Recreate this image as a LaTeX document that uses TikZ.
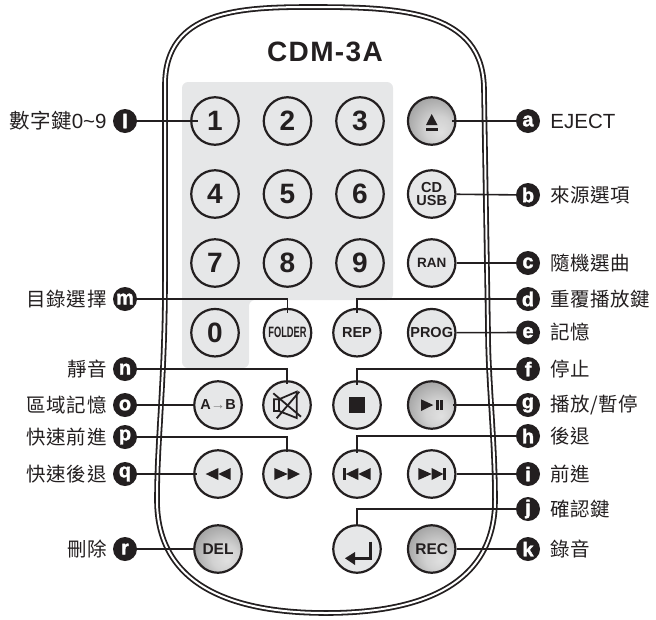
\documentclass[tikz,border=0pt]{standalone}
\usepackage{graphicx}
\usepackage{fontspec}
\setsansfont{Liberation Sans}
\newfontfamily\titlefont[LetterSpace=5]{Liberation Sans}
\newfontfamily\cjkfont[LetterSpace=3]{Noto Sans CJK TC}
\newfontfamily\badgefont[UprightFont={* Bold}, FakeBold=1.5]{Liberation Sans}
\usetikzlibrary{positioning}
\definecolor{ink}{HTML}{231F20}
\definecolor{panel}{HTML}{E6E7E8}
\pgfdeclareradialshading{btnglow}{\pgfpoint{10bp}{-12bp}}{
  rgb(0bp)=(.88,.88,.88); rgb(14bp)=(.82,.82,.82); rgb(32bp)=(.63,.63,.63); rgb(50bp)=(.55,.55,.55)}
\tikzset{
  btn/.style={circle, draw=ink, line width=2.2pt, fill=panel, minimum size=47.5pt, inner sep=0pt, text=ink, font=\fontsize{14.5}{14}\selectfont\sffamily\bfseries},
  darkbtn/.style={btn, shading=btnglow, font=\fontsize{15.5}{14}\selectfont\sffamily\bfseries},
  digit/.style={btn, font=\fontsize{28}{28}\selectfont\sffamily\bfseries},
  badge/.style={circle, fill=ink, minimum size=24pt, inner sep=0pt, text=white, font=\fontsize{20}{20}\selectfont\badgefont},
  cjk/.style={text=ink, inner sep=0pt, font=\fontsize{19.5}{20}\selectfont\cjkfont},
  lead/.style={draw=ink, line width=1.6pt},
  icon/.style={fill=ink, draw=none},
}
\begin{document}
\begin{tikzpicture}[x=1pt, y=-1pt]
    \useasboundingbox (0, 0) rectangle (656, 619);
    % case and number panel
    \draw[ink, line width=1.8pt, double=white, double distance=2pt] (312, 7) .. controls (240, 7) and (165, 10) .. (165, 85) -- (165, 280) .. controls (165, 380) and (157, 440) .. (157, 500) .. controls (157, 590) and (240, 613) .. (326, 613) .. controls (412, 613) and (495, 590) .. (495, 500) .. controls (495, 440) and (488, 380) .. (488, 330) -- (484, 90) .. controls (484, 10) and (400, 7) .. (312, 7) -- cycle;
    \fill[panel, rounded corners=6pt] (300, 82) -- (393, 82) -- (393, 300) -- (249, 300) -- (249, 368) -- (182, 368) -- (182, 82) -- cycle;
    \node (model) at (325, 52) {\fontsize{28}{28}\selectfont\titlefont\bfseries\textcolor{ink}{CDM-3A}};
    % buttons
    \node[digit] (one) at (215, 121) {1};
    \node[digit] (two) at (287.5, 121) {2};
    \node[digit] (three) at (360, 121) {3};
    \node[darkbtn] (eject) at (431.7, 121) {};
    \node[digit] (four) at (215, 194) {4};
    \node[digit] (five) at (287.5, 194) {5};
    \node[digit] (six) at (360, 194) {6};
    \node[btn, align=center, font=\fontsize{14.5}{13.5}\selectfont\sffamily\bfseries] (usb) at (431.7, 194) {CD\\USB};
    \node[digit] (seven) at (215, 263) {7};
    \node[digit] (eight) at (287.5, 263) {8};
    \node[digit] (nine) at (360, 263) {9};
    \node[btn, font=\fontsize{13.5}{13}\selectfont\sffamily\bfseries] (ran) at (431.7, 263) {RAN};
    \node[digit] (zero) at (215, 332.7) {0};
    \node[btn] (folder) at (287.5, 332.7) {\fontsize{15}{15}\selectfont\scalebox{.62}[1]{FOLDER}};
    \node[btn] (rep) at (357, 332.7) {REP};
    \node[btn] (prog) at (431.7, 332.7) {PROG};
    \node[btn] (ab) at (218, 405) {A\textcolor{gray}{\mdseries →}B};
    \node[btn] (mute) at (287, 405) {};
    \node[btn] (stop) at (357, 405) {};
    \node[darkbtn] (play) at (431.7, 405) {};
    \node[btn] (rew) at (218, 474) {};
    \node[btn] (fwd) at (287, 474) {};
    \node[btn] (prev) at (357, 474) {};
    \node[btn] (next) at (431.7, 474) {};
    \node[darkbtn] (del) at (218, 549) {DEL};
    \node[btn] (enter) at (357, 549) {};
    \node[darkbtn] (rec) at (431.7, 549) {REC};
    % icons
    \fill[icon] (431.7, 114) -- (437.5, 125) -- (426, 125) -- cycle;
    \fill[icon] (426, 127.5) rectangle (437.5, 130.5);
    \fill[icon] (349, 397.3) rectangle (365, 412.7);
    \fill[icon] (421, 399.3) -- (433.3, 405) -- (421, 411) -- cycle;
    \fill[icon] (436, 400) rectangle (439, 410);
    \fill[icon] (440, 400) rectangle (443, 410);
    \fill[icon] (218.3, 468) -- (205.7, 474) -- (218.3, 480) -- cycle;
    \fill[icon] (230.7, 468) -- (218.3, 474) -- (230.7, 480) -- cycle;
    \fill[icon] (274.3, 468) -- (287.7, 474) -- (274.3, 480) -- cycle;
    \fill[icon] (287.7, 468) -- (300, 474) -- (287.7, 480) -- cycle;
    \fill[icon] (343.3, 468) rectangle (346, 480);
    \fill[icon] (358.3, 468) -- (345.7, 474) -- (358.3, 480) -- cycle;
    \fill[icon] (370.7, 468) -- (358.3, 474) -- (370.7, 480) -- cycle;
    \fill[icon] (418.3, 468) -- (431.7, 474) -- (418.3, 480) -- cycle;
    \fill[icon] (431.7, 468) -- (443.3, 474) -- (431.7, 480) -- cycle;
    \fill[icon] (443.3, 468) rectangle (446, 480);
    \draw[ink, line width=3pt] (370, 541.7) -- (370, 558) -- (353, 558);
    \fill[icon] (345, 558.3) -- (355, 552) -- (355, 565) -- cycle;
    \draw[ink, line width=1.8pt] (279, 399.3) -- (274, 399.3) -- (274, 411) -- (279, 411) -- (296.7, 418) -- (296.7, 391.7) -- (279, 399.3) -- (279, 411);
    \draw[ink, line width=1.8pt] (273.3, 393.3) -- (301, 416.7);
    \draw[ink, line width=1.8pt] (276.7, 418.3) -- (299.3, 391.7);
    % right badges
    \node[badge] (a) at (528, 121) {a};
    \node[badge] (b) at (528, 195) {b};
    \node[badge] (c) at (528, 263) {c};
    \node[badge] (d) at (528, 299) {d};
    \node[badge] (e) at (528, 332.5) {e};
    \node[badge] (f) at (528, 369) {f};
    \node[badge] (g) at (528, 405) {g};
    \node[badge] (h) at (528, 436) {h};
    \node[badge] (i) at (528, 474) {i};
    \node[badge] (j) at (528, 509) {j};
    \node[badge] (k) at (528, 549) {k};
    % left badges
    \node[badge] (l) at (125, 121) {l};
    \node[badge] (m) at (125, 299) {m};
    \node[badge] (n) at (125, 369) {n};
    \node[badge] (o) at (125, 405) {o};
    \node[badge] (p) at (125, 437) {p};
    \node[badge] (q) at (125, 474) {q};
    \node[badge] (r) at (125, 549) {r};
    % labels
    \node[right=10pt of a, inner sep=0pt, text=ink, font=\fontsize{20.5}{20}\selectfont\sffamily] (tA) {EJECT};
    \node[cjk, right=10pt of b] (tB) {來源選項};
    \node[cjk, right=10pt of c] (tC) {隨機選曲};
    \node[cjk, right=10pt of d] (tD) {重覆播放鍵};
    \node[cjk, right=10pt of e] (tE) {記憶};
    \node[cjk, right=10pt of f] (tF) {停止};
    \node[cjk, right=10pt of g] (tG) {播放/暫停};
    \node[cjk, right=10pt of h] (tH) {後退};
    \node[cjk, right=10pt of i] (tI) {前進};
    \node[cjk, right=10pt of j] (tJ) {確認鍵};
    \node[cjk, right=10pt of k] (tK) {錄音};
    \node[cjk, left=6pt of l, font=\fontsize{20.5}{20}\selectfont\cjkfont] (tL) {數字鍵{\sffamily 0\textasciitilde9}};
    \node[cjk, left=6pt of m] (tM) {目錄選擇};
    \node[cjk, left=6pt of n] (tN) {靜音};
    \node[cjk, left=6pt of o] (tO) {區域記憶};
    \node[cjk, left=6pt of p] (tP) {快速前進};
    \node[cjk, left=6pt of q] (tQ) {快速後退};
    \node[cjk, left=6pt of r] (tR) {刪除};
    % connectors
    \draw[lead, shorten >=-5pt] (a) -- (eject);
    \draw[lead] (b) -- (usb);
    \draw[lead] (c) -- (ran);
    \draw[lead, shorten >=-5pt] (d) -| (rep);
    \draw[lead] (e) -- (prog);
    \draw[lead, shorten >=-5pt] (f) -| (stop);
    \draw[lead, shorten >=-4pt] (g) -- (play);
    \draw[lead, shorten >=-4pt] (h) -| (prev);
    \draw[lead] (i) -- (next);
    \draw[lead] (j) -| (enter);
    \draw[lead] (k) -- (rec);
    \draw[lead, shorten >=-8pt] (l) -- (one);
    \draw[lead, shorten >=-5pt] (m) -| (folder);
    \draw[lead, shorten >=-4pt] (n) -| (mute);
    \draw[lead] (o) -- (ab);
    \draw[lead, shorten >=-3pt] (p) -| (fwd);
    \draw[lead, shorten >=-4pt] (q) -- (rew);
    \draw[lead] (r) -- (del);
\end{tikzpicture}
\end{document}
